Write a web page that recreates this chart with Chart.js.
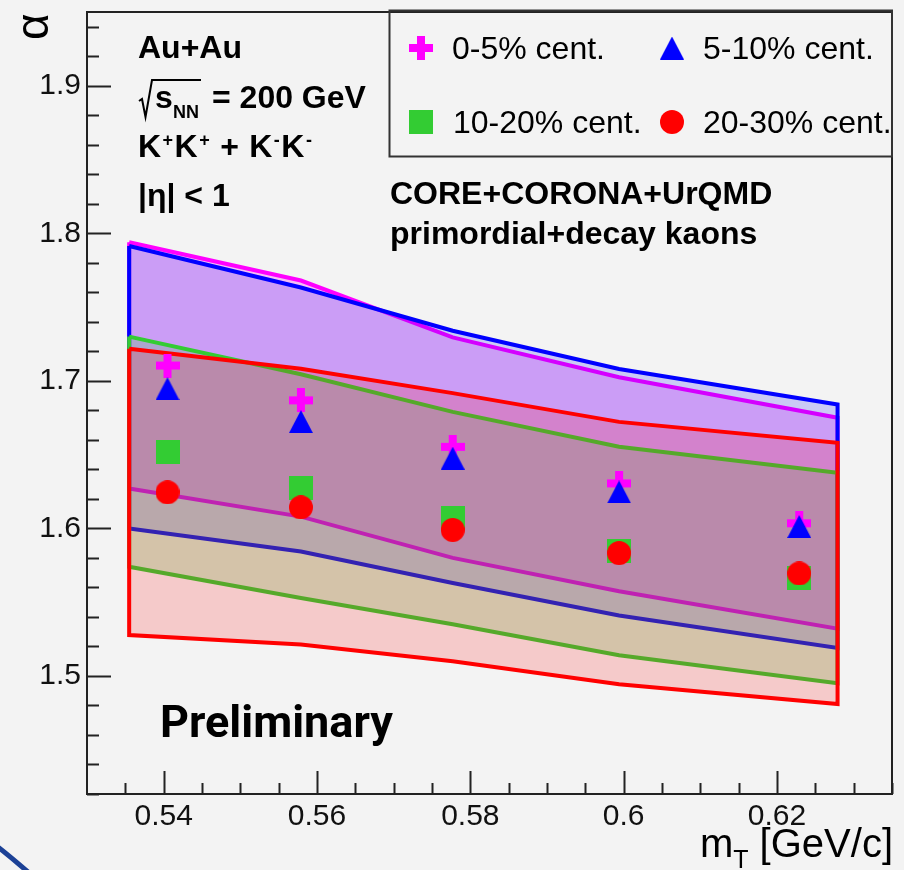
<!DOCTYPE html>
<html>
<head>
<meta charset="utf-8">
<script src="https://cdn.jsdelivr.net/npm/chart.js@4.4.1/dist/chart.umd.min.js"></script>
<style>
html, body { margin: 0; padding: 0; background: #f3f3f3; }
canvas { display: block; }
</style>
</head>
<body>
<canvas id="grafico" width="904" height="870"></canvas>
<script>
// bandas do modelo CORE+CORONA+UrQMD (limite superior / inferior)
const xBanda = [0.5355, 0.5579, 0.5777, 0.5994, 0.6279];
const sup05 = [1.794, 1.768, 1.7295, 1.7025, 1.675];
const inf05 = [1.627, 1.608, 1.580, 1.5574, 1.532];
const sup510 = [1.7914, 1.7633, 1.734, 1.708, 1.684];
const inf510 = [1.600, 1.5844, 1.563, 1.541, 1.519];
const sup1020 = [1.730, 1.7045, 1.679, 1.6553, 1.6377];
const inf1020 = [1.574, 1.5529, 1.535, 1.514, 1.4951];
const sup2030 = [1.7217, 1.7082, 1.6917, 1.6722, 1.658];
const inf2030 = [1.5277, 1.5214, 1.510, 1.4944, 1.481];

// pontos medidos (alpha vs mT)
const mT = [0.5405, 0.5579, 0.5777, 0.5994, 0.6229];
const alfa05 = [1.7104, 1.6868, 1.6553, 1.6305, 1.6035];
const alfa510 = [1.6947, 1.6724, 1.6476, 1.6247, 1.6013];
const alfa1020 = [1.6517, 1.6274, 1.6071, 1.5846, 1.5661];
const alfa2030 = [1.6245, 1.6143, 1.599, 1.5833, 1.5695];

const ticksX = [0.54, 0.56, 0.58, 0.6, 0.62];
const ticksY = [1.5, 1.6, 1.7, 1.8, 1.9];

const FONTE = '"Liberation Sans", Arial, sans-serif';

function marca(w, h, desenho) {
    const c = document.createElement('canvas');
    c.width = w;
    c.height = h;
    desenho(c.getContext('2d'));
    return c;
}

const cruz = marca(24, 24, g => {
    g.fillStyle = '#ff00ff';
    g.fillRect(8, 0, 8, 24);
    g.fillRect(0, 8, 24, 8);
});
const triangulo = marca(24, 23, g => {
    g.fillStyle = '#0000ff';
    g.beginPath();
    g.moveTo(12, 0);
    g.lineTo(24, 23);
    g.lineTo(0, 23);
    g.closePath();
    g.fill();
});
const quadrado = marca(24, 24, g => {
    g.fillStyle = '#33cc33';
    g.fillRect(0, 0, 24, 24);
});
const circulo = marca(24, 24, g => {
    g.fillStyle = '#ff0000';
    g.beginPath();
    g.arc(12, 12, 12, 0, Math.PI * 2);
    g.fill();
});

function banda(sup, inf) {
    const pts = xBanda.map((x, i) => ({ x: x, y: sup[i] }));
    for (let i = xBanda.length - 1; i >= 0; i--) pts.push({ x: xBanda[i], y: inf[i] });
    pts.push({ x: xBanda[0], y: sup[0] });
    return pts;
}

function pontos(valores) {
    return mT.map((x, i) => ({ x: x, y: valores[i] }));
}

function dsBanda(sup, inf, cor, fundo, ordem) {
    return {
        data: banda(sup, inf),
        showLine: true,
        fill: 'shape',
        backgroundColor: fundo,
        borderColor: cor,
        borderWidth: 4,
        borderJoinStyle: 'miter',
        pointRadius: 0,
        order: ordem
    };
}

function dsPontos(valores, estilo, ordem) {
    return {
        data: pontos(valores),
        pointStyle: estilo,
        pointRadius: 12,
        pointBorderWidth: 0,
        order: ordem
    };
}

// moldura, ticks internos, fundo
const moldura = {
    id: 'moldura',
    beforeDraw(chart) {
        const ctx = chart.ctx;
        ctx.save();
        ctx.fillStyle = '#f3f3f3';
        ctx.fillRect(0, 0, chart.width, chart.height);
        ctx.restore();
    },
    afterDraw(chart) {
        const { ctx, chartArea: a, scales: { x, y } } = chart;
        ctx.save();
        ctx.strokeStyle = '#222';
        ctx.lineWidth = 2;
        ctx.strokeRect(a.left, a.top, a.right - a.left, a.bottom - a.top);
        ctx.beginPath();
        for (let k = 71; k <= 97; k++) {
            const py = Math.round(y.getPixelForValue(k * 0.02)) + 0.5;
            const len = k % 5 === 0 ? 24 : 12;
            ctx.moveTo(a.left, py);
            ctx.lineTo(a.left + len, py);
        }
        for (let k = 107; k <= 127; k++) {
            const px = Math.round(x.getPixelForValue(k * 0.005)) + 0.5;
            const len = k % 4 === 0 ? 23 : 11;
            ctx.moveTo(px, a.bottom);
            ctx.lineTo(px, a.bottom - len);
        }
        ctx.stroke();

        // arco azul no canto
        ctx.strokeStyle = '#1c4196';
        ctx.lineWidth = 5;
        ctx.beginPath();
        ctx.moveTo(-2, 847);
        ctx.quadraticCurveTo(12, 858, 28, 872);
        ctx.stroke();
        ctx.restore();
    }
};

const textos = {
    id: 'textos',
    afterDraw(chart) {
        const ctx = chart.ctx;
        const negrito = t => 'bold ' + t + 'px ' + FONTE;
        ctx.save();
        ctx.fillStyle = '#000';
        ctx.strokeStyle = '#000';
        ctx.textBaseline = 'alphabetic';
        ctx.textAlign = 'left';

        ctx.font = negrito(32);
        ctx.fillText('Au+Au', 138, 58);

        ctx.lineWidth = 2;
        ctx.beginPath();
        ctx.moveTo(139, 101);
        ctx.lineTo(142, 99);
        ctx.lineTo(145.5, 117);
        ctx.lineTo(152, 80);
        ctx.lineTo(201, 80);
        ctx.stroke();
        ctx.fillText('s', 155, 108);
        ctx.font = negrito(18);
        ctx.fillText('NN', 173, 118);
        ctx.font = negrito(32);
        ctx.fillText('= 200 GeV', 212, 108);

        let x = 138;
        const partes = [['K', 0], ['+', 1], ['K', 0], ['+', 1], [' + ', 0], ['K', 0], ['-', 1], ['K', 0], ['-', 1]];
        for (const [t, s] of partes) {
            ctx.font = s ? negrito(18) : negrito(32);
            ctx.fillText(t, x, s ? 146 : 157);
            x += ctx.measureText(t).width + 1.5;
        }

        ctx.font = negrito(32);
        ctx.fillText('|\u03b7| < 1', 138, 206);
        ctx.fillText('CORE+CORONA+UrQMD', 390, 204);
        ctx.fillText('primordial+decay kaons', 390, 244);

        ctx.font = 'bold 45px Roboto, ' + FONTE;
        ctx.fillText('Preliminary', 160, 737);

        // legenda
        ctx.lineWidth = 2;
        ctx.strokeStyle = '#333';
        ctx.strokeRect(389.5, 10.5, 502.5, 146);
        const leg = [
            [cruz, 421, 48, '0-5% cent.', 452, 59],
            [triangulo, 672, 48, '5-10% cent.', 703, 59],
            [quadrado, 421, 122, '10-20% cent.', 453, 133],
            [circulo, 672, 122, '20-30% cent.', 703, 133]
        ];
        ctx.font = '32px ' + FONTE;
        for (const [img, mx, my, t, tx, ty] of leg) {
            ctx.drawImage(img, mx - img.width / 2, my - img.height / 2);
            ctx.fillText(t, tx, ty);
        }

        // titulos dos eixos
        ctx.font = '46px ' + FONTE;
        ctx.save();
        ctx.translate(48, 40);
        ctx.rotate(-Math.PI / 2);
        ctx.fillText('\u03b1', 0, 0);
        ctx.restore();

        ctx.font = '40px ' + FONTE;
        ctx.textAlign = 'right';
        const resto = ' [GeV/c]';
        ctx.fillText(resto, 893, 857);
        let xr = 893 - ctx.measureText(resto).width;
        ctx.font = '25px ' + FONTE;
        ctx.fillText('T', xr, 868);
        xr -= ctx.measureText('T').width;
        ctx.font = '40px ' + FONTE;
        ctx.fillText('m', xr, 857);
        ctx.restore();
    }
};

new Chart(document.getElementById('grafico'), {
    type: 'scatter',
    data: {
        datasets: [
            dsPontos(alfa2030, circulo, 1),
            dsPontos(alfa1020, quadrado, 2),
            dsPontos(alfa510, triangulo, 3),
            dsPontos(alfa05, cruz, 4),
            dsBanda(sup2030, inf2030, '#ff0000', 'rgba(255,0,0,0.17)', 5),
            dsBanda(sup1020, inf1020, '#33cc33', 'rgba(51,204,51,0.2)', 6),
            dsBanda(sup510, inf510, '#0000ff', 'rgba(0,0,255,0.17)', 7),
            dsBanda(sup05, inf05, '#ff00ff', 'rgba(255,0,255,0.22)', 8)
        ]
    },
    options: {
        responsive: false,
        animation: false,
        devicePixelRatio: 1,
        layout: { padding: { top: 10, right: 11, left: 0, bottom: 0 } },
        plugins: { legend: { display: false }, tooltip: { enabled: false } },
        scales: {
            x: {
                type: 'linear',
                min: 0.53,
                max: 0.635,
                afterFit: s => {
                    s.height = 76;
                    s.paddingLeft = 0;
                    s.paddingRight = 0;
                },
                afterBuildTicks: s => { s.ticks = ticksX.map(v => ({ value: v })); },
                grid: { display: false, drawTicks: false },
                border: { display: false },
                ticks: {
                    padding: 5,
                    maxRotation: 0,
                    autoSkip: false,
                    color: '#111',
                    font: { family: FONTE, size: 30 },
                    callback: v => String(+v.toFixed(2))
                }
            },
            y: {
                type: 'linear',
                min: 1.42,
                max: 1.95,
                afterFit: s => {
                    s.width = 87;
                    s.paddingTop = 0;
                    s.paddingBottom = 0;
                },
                afterBuildTicks: s => { s.ticks = ticksY.map(v => ({ value: v })); },
                grid: { display: false, drawTicks: false },
                border: { display: false },
                ticks: {
                    padding: 6,
                    autoSkip: false,
                    color: '#111',
                    font: { family: FONTE, size: 30 },
                    callback: v => v.toFixed(1)
                }
            }
        }
    },
    plugins: [moldura, textos]
});
</script>
</body>
</html>
